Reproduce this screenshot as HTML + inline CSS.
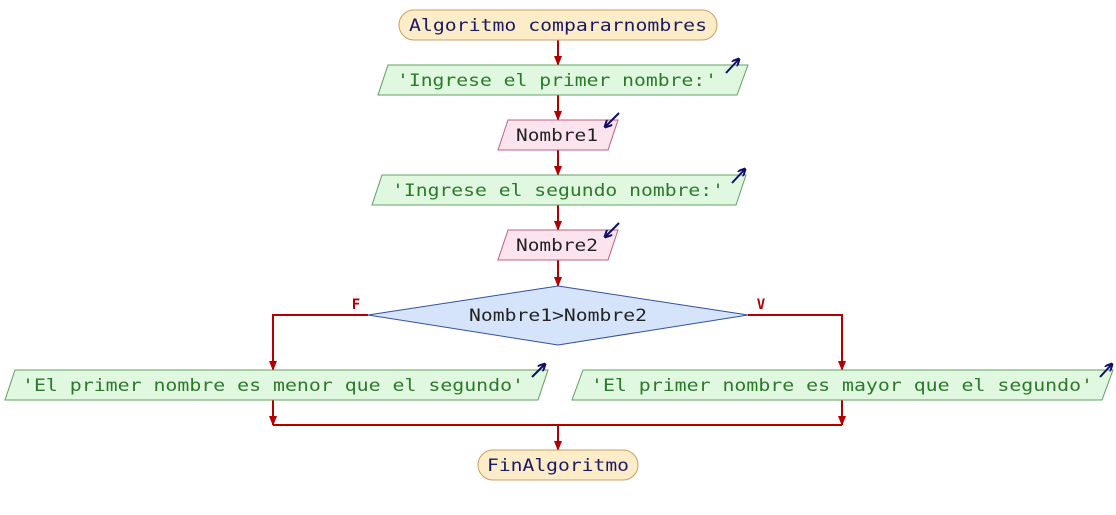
<!DOCTYPE html>
<html><head><meta charset="utf-8"><style>
html,body{margin:0;padding:0;background:#fff;}
svg{display:block;}
text{font-family:"DejaVu Sans Mono","Liberation Mono",monospace;font-size:17px;dominant-baseline:central;text-anchor:middle;}
</style></head><body>
<svg width="1116" height="515" viewBox="0 0 1116 515" xmlns="http://www.w3.org/2000/svg">
<defs>
<marker id="ar" markerWidth="10" markerHeight="8" refX="9" refY="4" orient="auto" markerUnits="userSpaceOnUse">
<path d="M0,0 L10,4 L0,8 z" fill="#b00000"/></marker>
<marker id="bl" markerWidth="8" markerHeight="8" refX="7" refY="4" orient="auto" markerUnits="userSpaceOnUse">
<path d="M0,0 L8,4 L0,8" fill="none" stroke="#10106a" stroke-width="2"/></marker>
</defs>
<g stroke="#b00000" stroke-width="2" fill="none">
<line x1="558" y1="40" x2="558" y2="65" marker-end="url(#ar)"/>
<line x1="558" y1="95" x2="558" y2="120" marker-end="url(#ar)"/>
<line x1="558" y1="150" x2="558" y2="175" marker-end="url(#ar)"/>
<line x1="558" y1="205" x2="558" y2="230" marker-end="url(#ar)"/>
<line x1="558" y1="260" x2="558" y2="286" marker-end="url(#ar)"/>
<polyline points="368,315 273,315 273,370" marker-end="url(#ar)"/>
<polyline points="748,315 842,315 842,370" marker-end="url(#ar)"/>
<line x1="273" y1="400" x2="273" y2="425" marker-end="url(#ar)"/>
<line x1="842" y1="400" x2="842" y2="425" marker-end="url(#ar)"/>
<line x1="273" y1="425" x2="842" y2="425"/>
<line x1="558" y1="425" x2="558" y2="450" marker-end="url(#ar)"/>
</g>
<rect x="399" y="10" width="318" height="30" rx="15" fill="#fdecc8" stroke="#c8a060"/>
<text x="558" y="26" fill="#1a1a6a" textLength="298" lengthAdjust="spacingAndGlyphs">Algoritmo compararnombres</text>

<polygon points="388,65 748,65 737,95 378,95" fill="#e0f7e0" stroke="#60a060"/>
<text x="557" y="81" fill="#2a7a2a" textLength="320" lengthAdjust="spacingAndGlyphs">'Ingrese el primer nombre:'</text>
<line x1="726" y1="73" x2="739" y2="59" stroke="#10106a" stroke-width="2" marker-end="url(#bl)"/>

<polygon points="508,120 618,120 608,150 498,150" fill="#fce4ee" stroke="#c06080"/>
<text x="557" y="136" fill="#222" textLength="82" lengthAdjust="spacingAndGlyphs">Nombre1</text>
<line x1="619" y1="113" x2="605" y2="127" stroke="#10106a" stroke-width="2" marker-end="url(#bl)"/>

<polygon points="382,175 746,175 736,205 372,205" fill="#e0f7e0" stroke="#60a060"/>
<text x="558" y="191" fill="#2a7a2a" textLength="332" lengthAdjust="spacingAndGlyphs">'Ingrese el segundo nombre:'</text>
<line x1="732" y1="183" x2="745" y2="169" stroke="#10106a" stroke-width="2" marker-end="url(#bl)"/>

<polygon points="508,230 618,230 608,260 498,260" fill="#fce4ee" stroke="#c06080"/>
<text x="557" y="246" fill="#222" textLength="82" lengthAdjust="spacingAndGlyphs">Nombre2</text>
<line x1="619" y1="223" x2="605" y2="237" stroke="#10106a" stroke-width="2" marker-end="url(#bl)"/>

<polygon points="558,286 748,315 558,345 368,315" fill="#d6e4fb" stroke="#3050a0"/>
<text x="558" y="316" fill="#222" textLength="178" lengthAdjust="spacingAndGlyphs">Nombre1&gt;Nombre2</text>
<text x="356" y="305" fill="#b00000" style="font-size:14px;font-weight:bold">F</text>
<text x="761" y="305" fill="#b00000" style="font-size:14px;font-weight:bold">V</text>

<polygon points="15,370 548,370 538,400 5,400" fill="#e0f7e0" stroke="#60a060"/>
<text x="273" y="386" fill="#2a7a2a" textLength="502" lengthAdjust="spacingAndGlyphs">'El primer nombre es menor que el segundo'</text>
<line x1="532" y1="377" x2="545" y2="364" stroke="#10106a" stroke-width="2" marker-end="url(#bl)"/>

<polygon points="583,370 1113,370 1102,400 572,400" fill="#e0f7e0" stroke="#60a060"/>
<text x="842" y="386" fill="#2a7a2a" textLength="502" lengthAdjust="spacingAndGlyphs">'El primer nombre es mayor que el segundo'</text>
<line x1="1100" y1="377" x2="1112" y2="364" stroke="#10106a" stroke-width="2" marker-end="url(#bl)"/>

<rect x="478" y="450" width="160" height="30" rx="15" fill="#fdecc8" stroke="#c8a060"/>
<text x="558" y="466" fill="#1a1a6a" textLength="142" lengthAdjust="spacingAndGlyphs">FinAlgoritmo</text>
</svg>
</body></html>
